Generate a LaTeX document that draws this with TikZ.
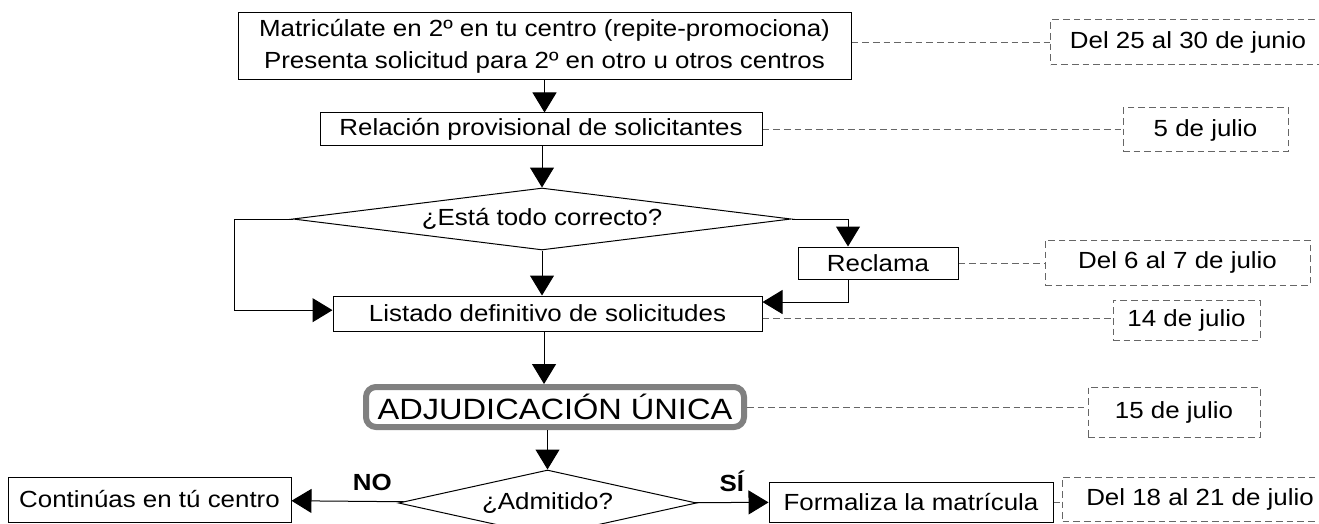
\documentclass[tikz,border=0pt]{standalone}
\usepackage{fontspec}
\setmainfont{Liberation Sans}[FakeStretch=1.11]
\usetikzlibrary{arrows.meta,shapes.geometric}

\begin{document}
\begin{tikzpicture}[x=0.75pt,y=-0.75pt,line width=0.75pt,>={Triangle[length=15pt,width=18pt]},
  every node/.style={font=\fontsize{17.5}{21}\selectfont},
  box/.style={draw,inner sep=0pt,align=center},
  ask/.style={draw,diamond,aspect=8,inner sep=0pt},
  datebox/.style={draw=black!60,dash pattern=on 5pt off 3pt,inner sep=0pt},
  datelink/.style={draw=black!60,dash pattern=on 5pt off 3pt},
  answer/.style={font=\fontsize{17.5}{20}\selectfont\bfseries}]
  \useasboundingbox (0,0) rectangle (1319,524);
  \clip (0,0) rectangle (1319,524);
  \node [box,minimum width=459.75pt,minimum height=50.25pt,font=\fontsize{17.5}{24}\selectfont] (matric) at (544.5,46.5) {Matricúlate en 2º en tu centro (repite-promociona)\\Presenta solicitud para 2º en otro u otros centros};
  \node [box,minimum width=331.5pt,minimum height=24.75pt] (relac) at (541,129.5) {Relación provisional de solicitantes};
  \node [ask,minimum width=373.5pt,minimum height=46.5pt] (correcto) at (542,219) {¿Está todo correcto?};
  \node [box,minimum width=120pt,minimum height=24pt] (reclama) at (878,263) {Reclama};
  \node [box,minimum width=321.75pt,minimum height=26.25pt] (listado) at (547.5,313.5) {Listado definitivo de solicitudes};
  \node [draw=gray,line width=4.5pt,rounded corners=7.5pt,minimum width=283.5pt,minimum height=30pt,inner sep=0pt,font=\fontsize{22}{26}\selectfont] (adjud) at (555,407) {ADJUDICACIÓN ÚNICA};
  \node [ask,minimum width=201.75pt,minimum height=49.5pt] (admit) at (547.5,503) {¿Admitido?};
  \node [box,minimum width=212.25pt,minimum height=33.75pt] (contin) at (149.5,499.5) {Continúas en tú centro};
  \node [box,minimum width=213pt,minimum height=30pt] (formal) at (911,502) {Formaliza la matrícula};

  \node [datebox,minimum width=206.25pt,minimum height=33.75pt] (junio) at (1188,42.5) {Del 25 al 30 de junio};
  \node [datebox,minimum width=123.75pt,minimum height=33pt] (cinco) at (1205.5,130) {5 de julio};
  \node [datebox,minimum width=198.75pt,minimum height=33.75pt] (seissiete) at (1177.5,262.5) {Del 6 al 7 de julio};
  \node [datebox,minimum width=110.25pt,minimum height=30pt] (catorce) at (1186.5,320) {14 de julio};
  \node [datebox,minimum width=129pt,minimum height=37.5pt] (quince) at (1174,412) {15 de julio};
  \node [datebox,minimum width=206.25pt,minimum height=33pt] (diecioch) at (1200,499) {Del 18 al 21 de julio};

  \draw[->] (matric.south) -- (matric.south |- relac.north);
  \draw[->] (relac.south -| correcto.north) -- (correcto.north);
  \draw[->] (correcto.south) -- (correcto.south |- listado.north);
  \draw[->] (correcto.west) -- ++(-58,0) |- ([yshift=2.5pt]listado.west);
  \draw[->] (correcto.east) -| ([xshift=-22.5pt]reclama.north);
  \draw[->] ([xshift=-22.5pt]reclama.south) |- ([yshift=8.6pt]listado.east);
  \draw[->] ([xshift=-2.6pt]listado.south) -- ([xshift=-2.6pt]listado.south |- adjud.north);
  \draw[->] (adjud.south -| admit.north) -- (admit.north);
  \path[->] (admit) edge node[answer,pos=0.28,above=4.5pt] {NO} (contin)
            (admit) edge node[answer,pos=0.5,above=4.5pt] {SÍ} (formal);

  \draw[datelink] (matric.east |- junio.west) -- (junio.west);
  \draw[datelink] (relac.east) -- (relac.east -| cinco.west);
  \draw[datelink] (reclama.east) -- (reclama.east -| seissiete.west);
  \draw[datelink] ([yshift=-3.5pt]listado.east) -- ([yshift=-3.5pt]listado.east -| catorce.west);
  \draw[datelink] (adjud.east) -- (adjud.east -| quince.west);
  \draw[datelink] (formal.east) -- (formal.east -| diecioch.west);
\end{tikzpicture}
\end{document}
